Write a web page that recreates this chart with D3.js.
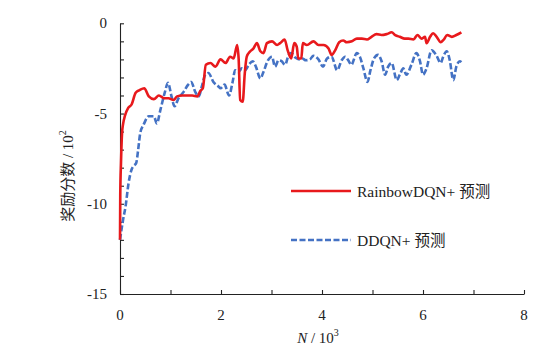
<!DOCTYPE html>
<html><head><meta charset="utf-8">
<script src="https://cdn.jsdelivr.net/npm/d3@7"></script>
<style>
html,body{margin:0;padding:0;background:#fff;}
svg{display:block;}
text{font-family:"Liberation Serif","Times New Roman","Noto Sans CJK SC",serif;fill:#222;}
</style></head>
<body>
<svg id="chart" width="557" height="358"></svg>
<script>
// ---- data (N in 10^3, score in 10^2) ----
const rainbowN = [0,0.005,0.02,0.04,0.06,0.1,0.16,0.23,0.31,0.39,0.48,0.57,0.67,0.77,0.87,0.96,1.06,1.13,1.23,1.33,1.43,1.53,1.59,1.64,1.70,1.79,1.89,1.99,2.09,2.18,2.25,2.32,2.35,2.38,2.43,2.47,2.51,2.58,2.64,2.71,2.78,2.84,2.91,3.01,3.11,3.17,3.26,3.32,3.39,3.45,3.50,3.53,3.59,3.62,3.70,3.83,3.93,4.03,4.13,4.19,4.26,4.34,4.42,4.49,4.59,4.69,4.79,4.89,4.98,5.08,5.18,5.28,5.38,5.45,5.54,5.64,5.71,5.81,5.89,5.97,6.04,6.07,6.14,6.20,6.27,6.35,6.41,6.48,6.57,6.66,6.76];
const rainbowScore = [-12.0,-9.5,-7.7,-6.1,-5.6,-5.1,-4.7,-4.5,-3.85,-3.7,-3.6,-4.05,-4.2,-4.0,-4.15,-4.15,-4.25,-4.05,-4.0,-4.0,-4.0,-4.05,-3.75,-3.6,-2.3,-2.2,-2.4,-2.0,-2.2,-1.85,-1.95,-1.2,-2.0,-4.25,-4.35,-2.8,-1.85,-1.55,-1.4,-1.1,-1.55,-1.65,-1.1,-1.0,-1.2,-1.1,-0.9,-1.5,-1.95,-1.1,-1.3,-1.95,-1.95,-1.1,-1.2,-1.0,-1.2,-1.2,-1.4,-1.75,-1.5,-1.05,-0.95,-1.05,-1.0,-0.85,-0.85,-0.9,-0.75,-0.6,-0.65,-0.6,-0.5,-0.65,-0.75,-0.85,-0.85,-0.9,-0.65,-0.85,-0.75,-1.1,-0.75,-0.55,-0.75,-1.05,-0.9,-0.65,-0.75,-0.65,-0.5];

const ddqnN = [0,0.06,0.11,0.17,0.23,0.27,0.32,0.36,0.40,0.47,0.57,0.67,0.73,0.80,0.89,0.95,1.02,1.08,1.16,1.26,1.35,1.41,1.49,1.56,1.62,1.69,1.75,1.85,1.95,1.99,2.07,2.16,2.23,2.28,2.35,2.41,2.48,2.55,2.63,2.69,2.78,2.84,2.93,3.01,3.07,3.14,3.20,3.27,3.34,3.39,3.47,3.55,3.61,3.68,3.76,3.83,3.93,4.02,4.10,4.19,4.30,4.39,4.46,4.52,4.58,4.69,4.75,4.82,4.90,4.96,5.03,5.11,5.18,5.25,5.31,5.38,5.48,5.54,5.61,5.67,5.77,5.87,5.94,6.00,6.07,6.17,6.26,6.35,6.40,6.47,6.53,6.60,6.66,6.73,6.76];
const ddqnScore = [-12.0,-10.9,-10.15,-8.85,-8.1,-7.9,-7.75,-7.0,-6.1,-5.6,-5.15,-5.15,-5.55,-4.8,-3.8,-3.3,-4.05,-4.6,-4.15,-3.8,-3.4,-3.25,-3.8,-4.05,-3.5,-2.85,-2.75,-3.25,-3.5,-3.6,-3.4,-4.0,-3.25,-2.6,-2.7,-2.5,-2.6,-2.3,-2.1,-2.4,-3.05,-2.7,-2.05,-1.85,-2.4,-2.05,-2.1,-2.3,-1.75,-1.65,-1.9,-2.0,-1.95,-2.05,-2.0,-1.8,-2.0,-2.4,-1.95,-1.85,-2.6,-2.05,-1.85,-2.05,-2.3,-1.65,-1.85,-2.5,-3.25,-2.6,-1.95,-1.75,-2.1,-2.85,-2.4,-2.2,-3.15,-2.85,-2.5,-2.85,-2.3,-1.65,-2.1,-2.85,-2.5,-1.5,-1.75,-2.2,-1.85,-1.55,-2.05,-3.15,-2.4,-2.1,-2.15];

const xTicksMajor = [0,2,4,6,8];
const yTicksMajor = [0,-5,-10,-15];
const seriesNames = ["RainbowDQN+ 预测","DDQN+ 预测"];
const xTitle = ["N"," / 10","3"];
const yTitle = ["奖励分数 / 10","2"];

// ---- drawing ----
const svg = d3.select("#chart");
const x = d3.scaleLinear().domain([0,8]).range([120,524]);
const y = d3.scaleLinear().domain([-15,0]).range([294,23.3]);

const xAxis = d3.axisBottom(x).tickValues(d3.range(0,9,1)).tickSizeInner(-4).tickSizeOuter(0).tickFormat("");
const gx = svg.append("g").attr("transform","translate(0,294)").call(xAxis);
gx.select(".domain").attr("stroke","#222").attr("stroke-width",1.1);
gx.selectAll(".tick line").attr("stroke","#222").attr("stroke-width",1.1);

const yAxis = d3.axisLeft(y).tickValues(d3.range(-15,1,1)).tickSizeInner(-4).tickSizeOuter(0).tickFormat("");
const gy = svg.append("g").attr("transform","translate(120,0)").call(yAxis);
gy.select(".domain").attr("stroke","#222").attr("stroke-width",1.1);
gy.selectAll(".tick line").attr("stroke","#222").attr("stroke-width",1.1);

// tick labels
svg.append("g").selectAll("text").data(xTicksMajor).join("text")
  .attr("x",d=>x(d)).attr("y",320).attr("text-anchor","middle")
  .attr("font-size",15).text(d=>String(d));
svg.append("g").selectAll("text").data(yTicksMajor).join("text")
  .attr("x",107).attr("y",d=>y(d)+5).attr("text-anchor","end")
  .attr("font-size",15).text(d=>String(d));

// axis titles
const xt = svg.append("text").attr("x",318).attr("y",343).attr("text-anchor","middle").attr("font-size",15);
xt.append("tspan").attr("font-style","italic").text(xTitle[0]);
xt.append("tspan").text(xTitle[1]);
xt.append("tspan").attr("font-size",10).attr("dy",-7).text(xTitle[2]);

const yt = svg.append("text").attr("transform","translate(73,176) rotate(-90)").attr("text-anchor","middle").attr("font-size",15);
yt.append("tspan").text(yTitle[0]);
yt.append("tspan").attr("font-size",10).attr("dy",-7).text(yTitle[1]);

// lines
const line = d3.line().x(d=>x(d[0])).y(d=>y(d[1])).curve(d3.curveMonotoneX);
const ddqnData = ddqnN.map((n,i)=>[n,ddqnScore[i]]);
const rainbowData = rainbowN.map((n,i)=>[n,rainbowScore[i]]);

svg.append("path").datum(ddqnData).attr("d",line).attr("fill","none")
  .attr("stroke","#4472c4").attr("stroke-width",2.6).attr("stroke-dasharray","6,2.5");
svg.append("path").datum(rainbowData).attr("d",line).attr("fill","none")
  .attr("stroke","#e8191c").attr("stroke-width",2.6).attr("stroke-linejoin","round");

// legend
const legend = [
  {name:seriesNames[0], color:"#e8191c", dash:null, y:191},
  {name:seriesNames[1], color:"#4472c4", dash:"6,2.5", y:240}
];
const lg = svg.append("g");
legend.forEach(l=>{
  lg.append("line").attr("x1",291).attr("x2",351).attr("y1",l.y).attr("y2",l.y)
    .attr("stroke",l.color).attr("stroke-width",2.6).attr("stroke-dasharray",l.dash);
  lg.append("text").attr("x",357).attr("y",l.y+5.5).attr("font-size",15.5).text(l.name);
});
</script>
</body></html>
